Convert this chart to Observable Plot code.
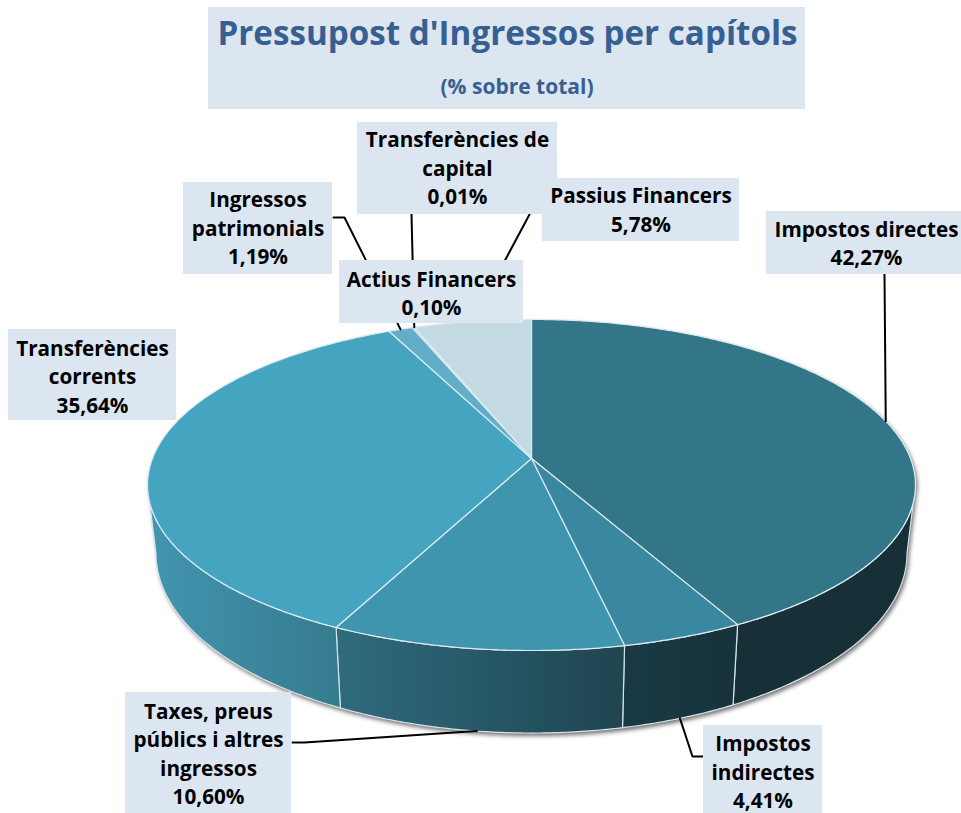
<!DOCTYPE html>
<html lang="ca">
<head>
<meta charset="utf-8">
<script src="https://cdn.jsdelivr.net/npm/d3@7"></script>
<script src="https://cdn.jsdelivr.net/npm/@observablehq/plot@0.6"></script>
<style>
html,body{margin:0;padding:0;background:#fff;overflow:hidden}
svg{display:block}
</style>
</head>
<body>
<div id="chart"></div>
<script>
// Data
const capitols = ["Impostos directes","Impostos indirectes","Taxes, preus públics i altres ingressos","Transferències corrents","Ingressos patrimonials","Actius Financers","Transferències de capital","Passius Financers"];
const percentatges = [42.27,4.41,10.60,35.64,1.19,0.10,0.01,5.78];
const etiquetes = ["Impostos directes\n42,27%","Impostos\nindirectes\n4,41%","Taxes, preus\npúblics i altres\ningressos\n10,60%","Transferències\ncorrents\n35,64%","Ingressos\npatrimonials\n1,19%","Actius Financers\n0,10%","Transferències de\ncapital\n0,01%","Passius Financers\n5,78%"];
const titol = "Pressupost d'Ingressos per capítols";
const subtitol = "(% sobre total)";

// Styles
const topColors = ["#337687","#3a87a0","#4095ae","#45a4c0","#62aec8","#8fc3d6","#aacfdd","#c3dae3"];
const wallStops = [["#172f36","#172f36"],["#193a45","#17333c"],["#2f6b7e","#1f4550"],["#4395b0","#357b8e"]];
const boxColor = "#dce6f1", titleColor = "#376092";
const font = "'Open Sans', sans-serif";

// Layout: label boxes [x1,x2,y1,y2], text nudges and leader elbows, by chapter
const boxes = [[766,966,211,274],[703,822,725,819],[125,291,692,816],[8,176,329,420],[183,332,182,274],[339,523,260,323],[357,557,122,214],[542,739,178,241]];
const labelDy = [-1,-2,-2,0,-2,0,-2,-1.5];
const elbows = [[[884,274]],[[703,756],[692,756]],[[292,742],[304,742]],null,[[333,217],[344,217]],null,[[411,214]],[[529,214]]];
const titleBox = [208,805,7,109];

// Perspective projection of the unit circle onto the page
const cx = 531, cy = 458, a = 379, b = 161.3, k = -0.16;
const wallFrom = 99.2, wallTo = 260.8; // where the rim turns away from the viewer
const topPoint = deg => {
  const t = deg * Math.PI / 180, u = Math.sin(t), v = -Math.cos(t), d = 1 + k * v;
  return {x: cx + a * u / d, y: cy + b * v / d};
};
const basePoint = deg => {
  const p = topPoint(deg);
  return {x: cx + 0.978 * (p.x - cx), y: 1.086 * p.y + 26.6};
};
const arc = (a0, a1, f) => {
  const n = Math.max(1, Math.ceil(Math.abs(a1 - a0) / 0.5));
  return d3.range(n + 1).map(i => f(a0 + (a1 - a0) * i / n));
};

let acc = 0;
const slices = percentatges.map((p, i) => {
  const s = {i, a0: acc * 3.6, a1: (acc + p) * 3.6, mid: (acc + p / 2) * 3.6};
  acc += p;
  return s;
});

const sliceTop = s => [{x: cx, y: cy}, ...arc(s.a0, s.a1, topPoint), {x: cx, y: cy}];
const wall = s => {
  const a0 = Math.max(s.a0, wallFrom), a1 = Math.min(s.a1, wallTo);
  if (a1 <= a0) return null;
  const pts = [...arc(a0, a1, topPoint), ...arc(a1, a0, basePoint)];
  pts.push(pts[0]);
  return pts;
};
const wallBounds = slices.map(s => { const w = wall(s); return w ? d3.extent(w, d => d.x) : null; });
const silhouette = [...arc(wallFrom, wallTo, basePoint), ...arc(wallTo, wallFrom + 360, topPoint)];

const defs = () => {
  const g = d3.create("svg:defs");
  wallStops.forEach((st, i) => {
    const e = wallBounds[i];
    const lg = g.append("linearGradient").attr("id", "wall" + i).attr("gradientUnits", "userSpaceOnUse")
      .attr("x1", e[0]).attr("x2", e[1]).attr("y1", 0).attr("y2", 0);
    lg.append("stop").attr("offset", 0).attr("stop-color", st[0]);
    lg.append("stop").attr("offset", 1).attr("stop-color", st[1]);
  });
  return g.node();
};

// Leader lines: from the label, through its elbow, to the middle of the slice's rim
const leaders = slices.flatMap(s => {
  const el = elbows[s.i];
  if (!el) return [];
  const front = s.mid > 100 && s.mid < 260;
  const end = front ? basePoint(s.mid) : topPoint(s.mid);
  return [...el, [end.x, end.y]].map(p => ({x: p[0], y: p[1], z: s.i}));
});

const boxData = boxes.map((b, i) => ({x1: b[0], x2: b[1], y1: b[2], y2: b[3], dy: labelDy[i], label: etiquetes[i], name: capitols[i]}));
const drawOrder = [7,6,4,5,0,1,2,3].map(i => boxData[i]);

const chart = Plot.plot({
  width: 961, height: 813, margin: 0,
  style: {background: "#fff"},
  x: {domain: [0, 961], range: [0, 961], axis: null},
  y: {domain: [0, 813], range: [0, 813], axis: null},
  marks: [
    defs,
    Plot.line(silhouette, {x: "x", y: "y", fill: "#fff", stroke: "none", imageFilter: "drop-shadow(2px 3px 2px rgba(0,0,0,.55))"}),
    ...slices.filter(s => wall(s)).map(s => Plot.line(wall(s), {x: "x", y: "y", fill: `url(#wall${s.i})`, stroke: "#d5e2e6", strokeWidth: 1.2})),
    ...slices.map(s => Plot.line(sliceTop(s), {x: "x", y: "y", fill: topColors[s.i], stroke: "#dcebf0", strokeWidth: 1.2})),
    Plot.line(leaders, {x: "x", y: "y", z: "z", stroke: "#000", strokeWidth: 2}),
    Plot.rect(drawOrder, {x1: "x1", x2: "x2", y1: "y1", y2: "y2", fill: boxColor}),
    Plot.text(drawOrder, {
      x: d => (d.x1 + d.x2) / 2, y: d => (d.y1 + d.y2) / 2 + d.dy, text: "label",
      fontFamily: font, fontWeight: 700, fontSize: 20.7, lineHeight: 28.5 / 20.7, fill: "#000", textAnchor: "middle"
    }),
    Plot.rect([titleBox], {x1: d => d[0], x2: d => d[1], y1: d => d[2], y2: d => d[3], fill: boxColor}),
    Plot.text([titol], {x: () => 507, y: () => 34, text: d => d, fontFamily: font, fontWeight: 700, fontSize: 33.2, fill: titleColor}),
    Plot.text([subtitol], {x: () => 516.5, y: () => 87, text: d => d, fontFamily: font, fontWeight: 700, fontSize: 21, fill: titleColor})
  ]
});
document.getElementById("chart").append(chart);
</script>
</body>
</html>
